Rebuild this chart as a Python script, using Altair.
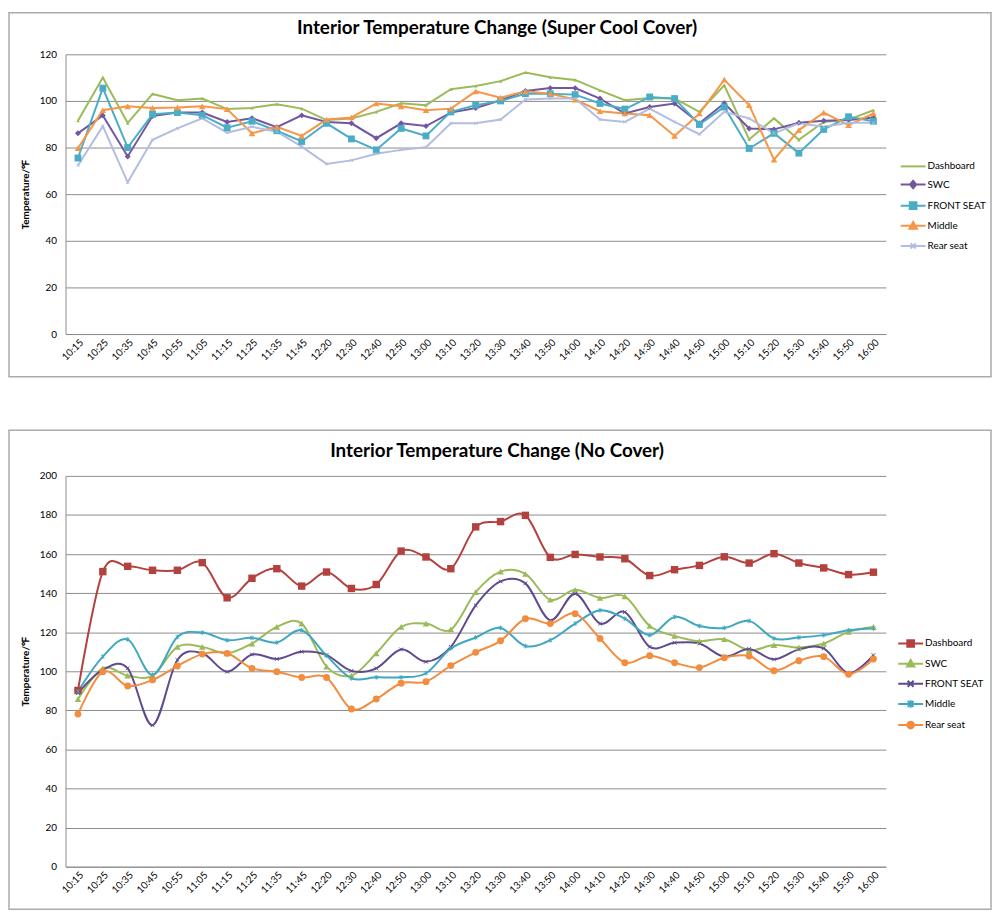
import altair as alt
import pandas as pd

FONT = "Lato"

times = ["10:15", "10:25", "10:35", "10:45", "10:55", "11:05", "11:15", "11:25", "11:35", "11:45",
         "12:20", "12:30", "12:40", "12:50", "13:00", "13:10", "13:20", "13:30", "13:40", "13:50",
         "14:00", "14:10", "14:20", "14:30", "14:40", "14:50", "15:00", "15:10", "15:20", "15:30",
         "15:40", "15:50", "16:00"]
series_names = ["Dashboard", "SWC", "FRONT SEAT", "Middle", "Rear seat"]

# ---- Super Cool Cover ----
top_title = "Interior Temperature Change (Super Cool Cover)"
top_dashboard = [91.5, 110, 90.5, 103, 100.3, 101, 96.5, 97, 98.6, 96.7, 91.8, 92.5, 95.3, 99, 98.2, 105, 106.4,
                 108.5, 112.2, 110.2, 109, 104.5, 100.3, 101.3, 101, 95.3, 106.7, 83.5, 92.5, 83.3, 91, 92, 96]
top_swc = [86.1, 93.8, 76.2, 93.5, 95, 95, 91, 92.6, 88.7, 93.8, 91, 90.4, 84, 90.4, 89.2, 95, 97,
           100.3, 104.3, 105.5, 105.5, 101, 94.6, 97.4, 98.9, 90.4, 99, 88.2, 87.8, 90.6, 91.5, 91.8, 92.9]
top_front = [75.5, 105.5, 80, 94.3, 95, 93.9, 88.5, 91.3, 87.2, 82.6, 90.4, 83.7, 79, 88.2, 85, 95.3, 98.2,
             100, 103.1, 103.1, 102.7, 98.9, 96.5, 101.7, 101, 89.9, 97.4, 79.6, 86.1, 77.6, 87.8, 93.2, 91.3]
top_middle = [79.7, 96, 97.7, 97, 97.2, 97.7, 96.5, 86.1, 88.9, 85, 92, 92.9, 98.9, 97.7, 96, 96.7, 104.1,
              101.4, 104.1, 103.1, 100.6, 95.6, 94.6, 93.9, 85, 94.6, 109.1, 98.2, 74.8, 87.5, 95, 89.6, 94.6]
top_rear = [72.3, 89.2, 65.1, 83.3, 88.2, 92.5, 86.4, 88.9, 86.8, 80.4, 73, 74.5, 77.3, 79, 80.1, 90.4, 90.4,
            92, 100.6, 101, 101, 92, 91, 96.7, 91, 85.7, 95.3, 92.5, 86.1, 90.4, 88.9, 90.6, 90.6]
top_colors = ["#9BBB59", "#7256A0", "#4BACC6", "#F79646", "#B3BDE0"]
top_ticks = [0, 20, 40, 60, 80, 100, 120]

# ---- No Cover ----
bot_title = "Interior Temperature Change (No Cover)"
bot_dashboard = [90.2, 151, 153.7, 151.7, 151.7, 155.6, 137.6, 147.6, 152.5, 143.6, 150.8, 142.4, 144.4, 161.5,
                 158.5, 152.5, 173.9, 176.6, 179.8, 158.3, 159.8, 158.5, 157.6, 149, 152, 154.2, 158.6, 155.4,
                 160.2, 155.4, 152.9, 149.5, 150.7]
bot_swc = [85.8, 101.5, 97.8, 97.8, 112.5, 112.5, 109.2, 114.2, 122.7, 124.4, 102.4, 97.8, 109.2, 122.7, 124.4,
           121.4, 140.5, 151, 149.8, 136.6, 141.7, 137.5, 138.3, 123.2, 118.1, 115.4, 116.4, 110.8, 113.4, 112.2,
           114.2, 120.2, 122.7]
bot_front = [88.8, 100.7, 101.5, 72.4, 105.8, 109.2, 99.8, 108.6, 106.3, 110, 108.3, 100.2, 101.5, 111.2, 104.9,
             112.5, 133.7, 146, 145, 126.1, 139.7, 124.4, 130.3, 112.5, 114.6, 114.2, 107.5, 111.4, 106.1, 111.2,
             111.7, 99, 108.3]
bot_middle = [89.7, 107.5, 116.3, 98.1, 117.6, 119.8, 115.9, 117.1, 114.7, 121, 108, 96.4, 96.9, 96.9, 99, 111.7,
              117.3, 122.2, 112.9, 115.9, 124.4, 131.2, 126.9, 118.5, 127.8, 123.2, 122.2, 125.8, 116.8, 117.3,
              118.5, 121, 121.9]
bot_rear = [78.1, 99.8, 92.5, 95.6, 102.7, 108.8, 109.2, 101.5, 99.8, 96.8, 96.8, 80.7, 85.8, 93.9, 94.7, 102.9,
            109.7, 115.6, 126.9, 124.4, 129.5, 116.8, 104.4, 108, 104.4, 101.9, 106.9, 107.8, 100.3, 105.4, 107.5,
            98.5, 106.3]
bot_colors = ["#B3423F", "#9BBB59", "#5E4A8C", "#3FA7C0", "#F28C3E"]
bot_ticks = [0, 20, 40, 60, 80, 100, 120, 140, 160, 180, 200]

y_title = "Temperature/℉"

# marker paths
X_PATH = "M-1,-1L1,1M-1,1L1,-1"
STAR_PATH = "M-1,-1L1,1M-1,1L1,-1M0,-1.35L0,1.35"

# plot markers: (shape, size, filled, strokeWidth)
top_markers = [("triangle-up", 14, True, 0), ("diamond", 36, True, 0), ("square", 48, True, 0),
               ("triangle-up", 44, True, 0), (X_PATH, 10, False, 1)]
bot_markers = [("square", 56, True, 0), ("triangle-up", 44, True, 0), (X_PATH, 14, False, 1),
               (STAR_PATH, 12, False, 1), ("circle", 48, True, 0)]

LN = "M-1.67,0H1.67"
top_leg_paths = [LN,
                 LN + "M0,-0.5L0.42,0L0,0.5L-0.42,0Z",
                 LN + "M-0.45,-0.45H0.45V0.45H-0.45Z",
                 LN + "M0,-0.5L0.5,0.4H-0.5Z",
                 LN + "M-0.35,-0.35L0.35,0.35M-0.35,0.35L0.35,-0.35"]
bot_leg_paths = [LN + "M-0.45,-0.45H0.45V0.45H-0.45Z",
                 LN + "M0,-0.5L0.5,0.4H-0.5Z",
                 LN + "M-0.4,-0.4L0.4,0.4M-0.4,0.4L0.4,-0.4",
                 LN + "M-0.4,-0.4L0.4,0.4M-0.4,0.4L0.4,-0.4M0,-0.5V0.5",
                 LN + "M-0.45,0A0.45,0.45,0,1,0,0.45,0A0.45,0.45,0,1,0,-0.45,0Z"]


def long_df(series_lists):
    rows = []
    for name, vals in zip(series_names, series_lists):
        for t, v in zip(times, vals):
            rows.append({"time": t, "series": name, "value": v})
    return pd.DataFrame(rows)


W = 827


def panel(df, title, colors, markers, leg_paths, ticks, H, interp, frame, title_y, leg_xy):
    ymax = ticks[-1]
    x_enc = alt.X("time:O", sort=times, title=None,
                  scale=alt.Scale(type="point", padding=0.5),
                  axis=alt.Axis(labelAngle=-45, labelAlign="right", labelBaseline="top",
                                labelPadding=3, ticks=False, grid=False, domainColor="#8C8C8C",
                                labelFont=FONT, labelFontSize=10, labelColor="#000000"))
    y_enc = alt.Y("value:Q", title=y_title,
                  scale=alt.Scale(domain=[0, ymax], nice=False, zero=True),
                  axis=alt.Axis(values=ticks, ticks=False, grid=True, gridColor="#8C8C8C",
                                domainColor="#8C8C8C", labelPadding=9, labelFont=FONT,
                                labelFontSize=10, labelColor="#000000", titleFont=FONT,
                                titleFontSize=10, titleFontWeight="bold", titlePadding=9,
                                titleColor="#000000"))
    one = pd.DataFrame({"label": [title]})
    layers = []
    fx, fx2, fy, fy2 = frame
    layers.append(alt.Chart(one).mark_rect(fill="#FFFFFF", fillOpacity=0, stroke="#ABABAB",
                                           strokeWidth=1.5).encode(
        x=alt.value(fx), x2=alt.value(fx2), y=alt.value(fy), y2=alt.value(fy2)))
    base = alt.Chart(df)
    for name, col in zip(series_names, colors):
        layers.append(base.transform_filter(alt.datum.series == name)
                      .mark_line(color=col, strokeWidth=2, interpolate=interp)
                      .encode(x=x_enc, y=y_enc))
    for name, col, (shp, sz, filled, sw) in zip(series_names, colors, markers):
        if filled:
            mk = base.mark_point(shape=shp, size=sz, filled=True, color=col, opacity=1)
        else:
            mk = base.mark_point(shape=shp, size=sz, filled=False, color=col, opacity=1,
                                 strokeWidth=sw)
        layers.append(mk.transform_filter(alt.datum.series == name).encode(x=x_enc, y=y_enc))
    lx, ly = leg_xy
    leg = alt.Legend(orient="none", legendX=lx, legendY=ly, title=None, labelFont=FONT,
                     labelFontSize=10, labelColor="#000000", symbolSize=225,
                     symbolStrokeWidth=2, rowPadding=4.3, labelOffset=6, padding=0)
    layers.append(base.transform_filter("false").mark_point(filled=True, opacity=1, strokeWidth=2)
                  .encode(fill=alt.Fill("series:N", scale=alt.Scale(domain=series_names, range=colors),
                                        legend=leg),
                          stroke=alt.Stroke("series:N", scale=alt.Scale(domain=series_names, range=colors),
                                            legend=leg),
                          shape=alt.Shape("series:N", scale=alt.Scale(domain=series_names, range=leg_paths),
                                          legend=leg)))
    layers.append(alt.Chart(one).mark_text(font=FONT, fontSize=19, fontWeight="bold", color="#000000",
                                           align="center", baseline="middle")
                  .encode(text="label:N", x=alt.value(435), y=alt.value(title_y)))
    return alt.layer(*layers).properties(width=W, height=H)


top_df = long_df([top_dashboard, top_swc, top_front, top_middle, top_rear])
bot_df = long_df([bot_dashboard, bot_swc, bot_front, bot_middle, bot_rear])

top = panel(top_df, top_title, top_colors, top_markers, top_leg_paths, top_ticks, 282, "linear",
            (-57, 933, -42, 325), -26, (846, 104.5))
bot = panel(bot_df, bot_title, bot_colors, bot_markers, bot_leg_paths, bot_ticks, 394, "cardinal",
            (-57, 933, -46, 437), -25, (843.5, 160.5))

chart = (alt.vconcat(top, bot, spacing=52)
         .resolve_scale(fill="independent", stroke="independent", shape="independent")
         .resolve_legend(fill="independent", stroke="independent", shape="independent")
         .properties(padding=0, background="#FFFFFF")
         .configure_view(stroke=None))

chart.save("out.html", embed_options={"renderer": "svg", "actions": False})
